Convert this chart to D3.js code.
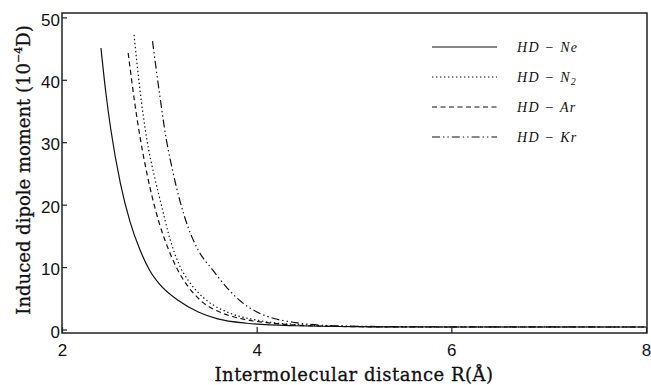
<!DOCTYPE html>
<html>
<head>
<meta charset="utf-8">
<script src="https://cdn.jsdelivr.net/npm/d3@7/dist/d3.min.js"></script>
<style>
  body { margin: 0; background: #fff; }
  svg { display: block; }
  .tick text { font-family: "Liberation Sans", Arial, sans-serif; font-size: 17px; fill: #111; }
  .tick line { stroke: #222; stroke-width: 1.2; }
</style>
</head>
<body>
<svg width="651" height="385"></svg>
<script>
// values
var xTicks = [2, 4, 6, 8];
var yTicks = [0, 10, 20, 30, 40, 50];

var neR = [2.40, 2.45, 2.50, 2.60, 2.70, 2.80, 2.90, 3.00, 3.20, 3.40, 3.60, 3.90, 4.40, 5.00, 6.00, 8.00];
var neD = [45.1, 38.0, 32.2, 23.4, 17.2, 12.8, 9.5, 7.3, 4.6, 2.8, 1.7, 1.0, 0.6, 0.45, 0.4, 0.4];

var n2R = [2.74, 2.80, 2.87, 2.95, 3.02, 3.10, 3.20, 3.30, 3.40, 3.50, 3.73, 4.00, 4.40, 5.00, 6.00, 8.00];
var n2D = [47.2, 38.5, 30.6, 24.5, 20.0, 15.0, 10.5, 7.8, 5.9, 4.5, 2.6, 1.5, 0.8, 0.5, 0.4, 0.4];

var arR = [2.68, 2.75, 2.80, 2.90, 3.00, 3.10, 3.20, 3.30, 3.42, 3.65, 3.85, 4.10, 4.40, 4.80, 5.50, 8.00];
var arD = [44.3, 36.0, 31.0, 23.0, 17.0, 12.6, 9.2, 6.8, 4.7, 2.6, 1.7, 1.1, 0.7, 0.5, 0.4, 0.4];

var krR = [2.93, 3.00, 3.07, 3.14, 3.21, 3.30, 3.40, 3.55, 3.70, 3.83, 4.03, 4.17, 4.40, 4.80, 5.50, 8.00];
var krD = [46.2, 38.0, 30.6, 25.2, 20.7, 16.2, 12.7, 9.5, 6.6, 4.6, 2.6, 1.8, 1.1, 0.6, 0.45, 0.4];

var seriesLabels = [["HD − Ne", ""], ["HD − N", "2"], ["HD − Ar", ""], ["HD − Kr", ""]];
var dashes = [null, "1.4,2.6", "5,3.5", "8,3,1.4,3,1.4,3"];

var series = [[neR, neD], [n2R, n2D], [arR, arD], [krR, krD]].map(function(p, i) {
	return {
		label: seriesLabels[i],
		dash: dashes[i],
		points: p[0].map(function(r, j) { return {r: r, d: p[1][j]}; })
	};
});

var svg = d3.select("svg");
var plotLeft = 62, plotRight = 647, plotTop = 13, plotBottom = 333;

var x = d3.scaleLinear().domain([2, 8]).range([plotLeft, plotRight - 1]);
var y = d3.scaleLinear().domain([-0.56, 50.7]).range([plotBottom, plotTop]);

// frame
svg.append("rect")
	.attr("x", plotLeft).attr("y", plotTop)
	.attr("width", plotRight - plotLeft).attr("height", plotBottom - plotTop)
	.attr("fill", "none").attr("stroke", "#222").attr("stroke-width", 1.5);

var xAxis = svg.append("g")
	.attr("transform", "translate(0," + plotBottom + ")")
	.call(d3.axisBottom(x).tickValues(xTicks).tickFormat(d3.format("d"))
		.tickSizeInner(-6).tickSizeOuter(0).tickPadding(11));
xAxis.select(".domain").remove();

var yAxis = svg.append("g")
	.attr("transform", "translate(" + plotLeft + ",0)")
	.call(d3.axisLeft(y).tickValues(yTicks).tickFormat(d3.format("d"))
		.tickSizeInner(-5).tickSizeOuter(0).tickPadding(2));
yAxis.select(".domain").remove();
yAxis.selectAll(".tick text").attr("dy", "0.45em");

var line = d3.line()
	.x(function(d) { return x(d.r); })
	.y(function(d) { return y(d.d); })
	.curve(d3.curveMonotoneX);

svg.selectAll(".curve")
	.data(series)
	.enter().append("path")
	.attr("class", "curve")
	.attr("d", function(d) { return line(d.points); })
	.attr("fill", "none")
	.attr("stroke", "#111")
	.attr("stroke-width", 1.2)
	.attr("stroke-dasharray", function(d) { return d.dash; });

// legend
var legend = svg.selectAll(".legend")
	.data(series)
	.enter().append("g")
	.attr("class", "legend")
	.attr("transform", function(d, i) { return "translate(432," + (47 + i * 30) + ")"; });

legend.append("line")
	.attr("x1", 0).attr("x2", 65)
	.attr("stroke", "#111").attr("stroke-width", 1.2)
	.attr("stroke-dasharray", function(d) { return d.dash; });

var lt = legend.append("text")
	.attr("x", 85).attr("y", 5)
	.attr("font-family", "'Liberation Serif', 'DejaVu Serif', serif")
	.attr("font-style", "italic")
	.attr("font-size", 14)
	.attr("letter-spacing", 1.3)
	.attr("fill", "#111");
lt.append("tspan").text(function(d) { return d.label[0]; });
lt.append("tspan")
	.attr("font-size", 10)
	.attr("dy", 3)
	.text(function(d) { return d.label[1]; });

// axis titles
svg.append("text")
	.attr("x", 354).attr("y", 381)
	.attr("text-anchor", "middle")
	.attr("font-family", "'DejaVu Serif', serif")
	.attr("font-size", 18)
	.attr("letter-spacing", 0.5)
	.attr("stroke", "#111").attr("stroke-width", 0.3)
	.attr("fill", "#111")
	.text("Intermolecular distance R(Å)");

var yt = svg.append("text")
	.attr("transform", "translate(30,170) rotate(-90)")
	.attr("text-anchor", "middle")
	.attr("font-family", "'DejaVu Serif', serif")
	.attr("font-size", 18)
	.attr("stroke", "#111").attr("stroke-width", 0.3)
	.attr("fill", "#111");
yt.append("tspan").text("Induced dipole moment (10");
yt.append("tspan").attr("font-size", 11).attr("dy", -8).text("−4");
yt.append("tspan").attr("dy", 8).text("D)");
</script>
</body>
</html>
